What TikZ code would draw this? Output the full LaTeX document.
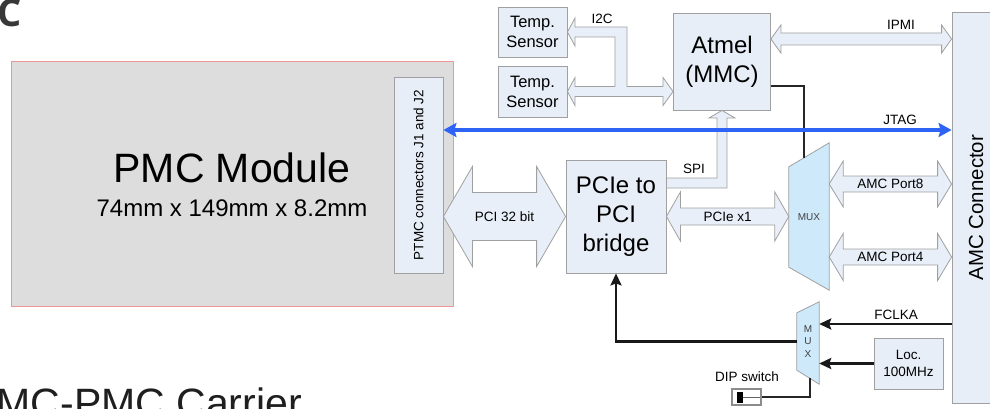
\documentclass[tikz,border=0pt]{standalone}
\usepackage{fontspec}
\setmainfont{Liberation Sans}
\newfontfamily\headfont{Open Sans}
\usetikzlibrary{arrows.meta,calc}

\definecolor{boxfill}{RGB}{232,238,247}
\definecolor{boxline}{RGB}{160,160,160}
\definecolor{busfill}{RGB}{233,239,248}
\definecolor{muxfill}{RGB}{206,233,250}
\definecolor{pmcfill}{RGB}{221,221,221}
\definecolor{pmcline}{RGB}{240,150,150}
\definecolor{jtagblue}{RGB}{45,100,245}

% hollow bus arrow with two heads: from, to, shaft half, head half, head length
\newcommand{\hbus}[5]{%
  \path[bus] let \p1=#1, \p2=#2 in
    (\x1,\y1) -- ({\x1+#5},{\y1+#4}) -- ({\x1+#5},{\y1+#3}) -- ({\x2-#5},{\y1+#3})
    -- ({\x2-#5},{\y1+#4}) -- (\x2,\y1) -- ({\x2-#5},{\y1-#4}) -- ({\x2-#5},{\y1-#3})
    -- ({\x1+#5},{\y1-#3}) -- ({\x1+#5},{\y1-#4}) -- cycle;}

\begin{document}
\begin{tikzpicture}[x=1pt, y=-1pt,
        box/.style={draw=boxline, fill=boxfill, line width=0.8pt, inner sep=0pt, align=center},
        bigfont/.style={font=\fontsize{24}{29}\selectfont},
        tsfont/.style={font=\fontsize{16.5}{20}\selectfont},
        lbl/.style={font=\fontsize{13.5}{17.5}\selectfont, inner sep=0pt, align=center},
        bus/.style={draw=boxline, fill=busfill, line width=0.8pt},
        muxshape/.style={draw=boxline, fill=muxfill, line width=0.8pt},
        muxtxt/.style={font=\fontsize{10}{12.5}\selectfont, text=black!75, inner sep=0pt, align=center},
        sig/.style={draw=black!90, line width=2.6pt, -{Stealth[length=12pt, width=11pt, inset=2pt]}},
        wire/.style={draw=black!85, line width=1.2pt},
        jtag/.style={draw=jtagblue, line width=3.6pt, {Stealth[length=13pt, width=14pt, inset=2pt]}-{Stealth[length=13pt, width=14pt, inset=2pt]}}]
    \useasboundingbox (0,0) rectangle (990,409);
    \clip (0,0) rectangle (990,409);

    % titles, cut by the page edge
    \node[anchor=base west, inner sep=0pt, font=\headfont\bfseries\fontsize{38}{38}\selectfont, text=black!78] (head) at (-2.5,27) {C};
    \node[anchor=base east, inner sep=0pt, font=\fontsize{41}{41}\selectfont, text=black!88] (title) at (302,417) {MC-PMC Carrier};

    % PMC module
    \node[draw=pmcline, fill=pmcfill, line width=0.9pt, minimum width=442, minimum height=245] (pmc) at (232,183.5) {};
    \node[anchor=base, inner sep=0pt, font=\fontsize{41}{41}\selectfont] (pmcname) at (232,182) {PMC Module};
    \node[anchor=base, inner sep=0pt, font=\fontsize{24}{24}\selectfont] (pmcsize) at (232,216) {74mm x 149mm x 8.2mm};
    \node[box, minimum width=49, minimum height=196, label={[rotate=90, lbl]center:PTMC connectors J1 and J2}] (ptmc) at (418.5,175) {};

    % blocks
    \node[box, tsfont, minimum width=69, minimum height=50] (ts1) at (532.5,32) {Temp.\\Sensor};
    \node[box, tsfont, minimum width=69, minimum height=51] (ts2) at (532.5,91.5) {Temp.\\Sensor};
    \node[box, bigfont, minimum width=97, minimum height=97] (atmel) at (722,61.5) {Atmel\\(MMC)};
    \node[box, bigfont, minimum width=100, minimum height=113] (bridge) at (616,216.5) {PCIe to\\PCI\\bridge};
    \node[box, lbl, minimum width=69, minimum height=51] (loc) at (908.5,363.5) {Loc.\\100MHz};
    \node[box, minimum width=48, minimum height=391, label={[rotate=90, font=\fontsize{20.4}{24}\selectfont]center:AMC Connector}] (amc) at (976,207.5) {};

    % multiplexers
    \node[minimum width=40, minimum height=100, inner sep=0pt] (mux) at (809,217) {};
    \path[muxshape] (mux.north west) -- ([yshift=24pt]mux.north east) -- ([yshift=-23pt]mux.south east) -- (mux.south west) -- cycle;
    \node[muxtxt] (muxlbl) at (mux) {MUX};
    \node[minimum width=22, minimum height=57, inner sep=0pt] (smux) at (808,341.5) {};
    \path[muxshape] (smux.north west) -- ([yshift=11pt]smux.north east) -- ([yshift=-14pt]smux.south east) -- (smux.south west) -- cycle;
    \node[muxtxt] (smuxlbl) at (smux) {M\\U\\X};

    % DIP switch
    \node[draw=black!45, fill=white, line width=2pt, minimum width=29, minimum height=16, inner sep=0pt] (dip) at (746.5,397) {};
    \fill[black] (737,391.5) rectangle (743,402.5);
    \draw[black!60, line width=0.6pt] (743,397) -- (760,397);
    \node[lbl] (diplbl) at (747,377) {DIP switch};

    % buses
    \path[bus] (ts1.east) -- (575,18) -- (575,27) -- (627,27) -- (627,86.5) -- (663,86.5) -- (663,77.5)
        -- (atmel.west |- ts2.east) -- (663,105.5) -- (663,96.5) -- (575,96.5) -- (575,105.5) -- (ts2.east)
        -- (575,77.5) -- (575,86.5) -- (615,86.5) -- (615,37) -- (575,37) -- (575,46) -- cycle;
    \path[bus] (bridge.east |- 0,178) -- (717,178) -- (717,118) -- (709,118) -- (atmel.south)
        -- (735,118) -- (727,118) -- (727,188) -- (bridge.east |- 0,188) -- cycle;
    \hbus{(atmel.east |- 0,39)}{(amc.west |- 0,39)}{6pt}{14pt}{10pt}
    \hbus{(ptmc.east |- bridge.west)}{(bridge.west)}{24pt}{50pt}{29pt}
    \hbus{(bridge.east)}{(mux.west)}{8.5pt}{24.5pt}{14pt}
    \hbus{(mux.east |- 0,184)}{(amc.west |- 0,184)}{8pt}{23pt}{14pt}
    \hbus{(mux.east |- 0,257)}{(amc.west |- 0,257)}{8pt}{23.5pt}{14pt}

    % thin control lines
    \coordinate (muxin) at (804,158);
    \coordinate (dipin) at (810,378);
    \draw[wire] (atmel.east |- 0,86) -| (muxin);
    \draw[wire] (dip.east) -| (dipin);

    % clock lines
    \draw[sig] (smux.west) -| (bridge.south);
    \draw[sig] (amc.west |- 0,324) -- (smux.east |- 0,324);
    \draw[sig] (loc.west) -- (smux.east |- loc.west);

    \draw[jtag] (ptmc.east |- 0,130) -- (amc.west |- 0,130);

    % labels
    \node[lbl] (ipmilbl) at (901,25) {IPMI};
    \node[lbl] (jtaglbl) at (900,120) {JTAG};
    \node[lbl] (i2clbl) at (602,19) {I2C};
    \node[lbl] (spilbl) at (694,169) {SPI};
    \node[lbl] (fclklbl) at (896,315) {FCLKA};
    \node[lbl] (pcilbl) at ($(ptmc.east |- bridge.west)!0.5!(bridge.west)$) {PCI 32 bit};
    \node[lbl] (pcielbl) at ($(bridge.east)!0.5!(mux.west)$) {PCIe x1};
    \node[lbl] (port8lbl) at ($(mux.east |- 0,184)!0.5!(amc.west |- 0,184)$) {AMC Port8};
    \node[lbl] (port4lbl) at ($(mux.east |- 0,257)!0.5!(amc.west |- 0,257)$) {AMC Port4};
\end{tikzpicture}
\end{document}
